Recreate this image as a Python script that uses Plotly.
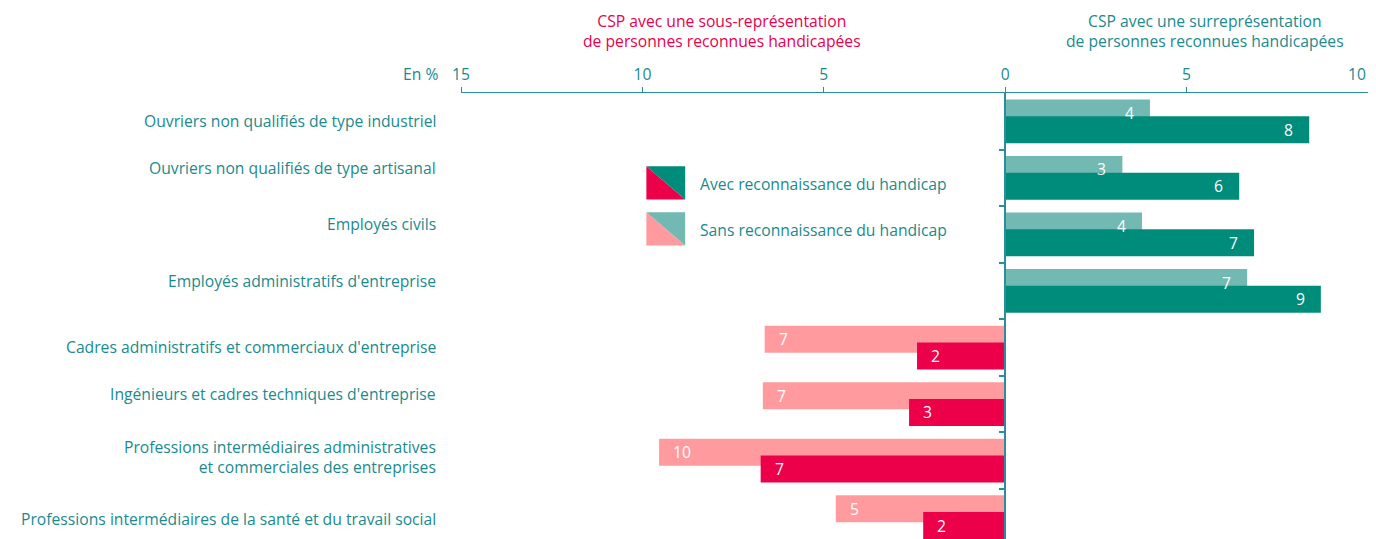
import plotly.graph_objects as go

categories = [
    "Ouvriers non qualifiés de type industriel",
    "Ouvriers non qualifiés de type artisanal",
    "Employés civils",
    "Employés administratifs d'entreprise",
    "Cadres administratifs et commerciaux d'entreprise",
    "Ingénieurs et cadres techniques d'entreprise",
    "Professions intermédiaires administratives<br>et commerciales des entreprises",
    "Professions intermédiaires de la santé et du travail social",
]
sans_reco = [3.99, 3.23, 3.77, 6.67, -6.63, -6.68, -9.54, -4.67]
avec_reco = [8.38, 6.45, 6.86, 8.70, -2.43, -2.65, -6.74, -2.26]
tick_vals = [-15, -10, -5, 0, 5, 10]
tick_text = ["15", "10", "5", "0", "5", "10"]

TEAL_DARK = "#008c7b"
TEAL_LIGHT = "#72b9b3"
RED_DARK = "#ec0049"
RED_LIGHT = "#ff9b9f"
TXT = "#1a8a8e"
PINK_TXT = "#e8004c"
AXIS = "#2a8f96"
FONT = "Open Sans"
FS = 15.7

# per-label vertical nudge (px) to follow the original typesetting
label_yshift = [0, 10, 10, 9.5, 1, 10, 4, -2]

n = len(categories)
pos = list(range(n))
off = 0.148
w = 0.478

fig = go.Figure()
fig.add_trace(go.Bar(
    x=sans_reco, y=[p - off for p in pos], orientation="h", width=w,
    marker=dict(color=[TEAL_LIGHT if v > 0 else RED_LIGHT for v in sans_reco], line=dict(width=0)),
    showlegend=False, hoverinfo="skip",
))
fig.add_trace(go.Bar(
    x=avec_reco, y=[p + off for p in pos], orientation="h", width=w,
    marker=dict(color=[TEAL_DARK if v > 0 else RED_DARK for v in avec_reco], line=dict(width=0)),
    showlegend=False, hoverinfo="skip",
))

annotations = []
# value labels
for series, dy in ((sans_reco, -off), (avec_reco, off)):
    for p, v in zip(pos, series):
        annotations.append(dict(
            x=v, y=p + dy, xref="x", yref="y", text=str(round(abs(v))),
            showarrow=False, xanchor="right" if v > 0 else "left",
            xshift=-14 if v > 0 else 12, yanchor="middle",
            font=dict(family=FONT, size=FS, color="white"),
        ))
# category labels
for p, c, ys in zip(pos, categories, label_yshift):
    annotations.append(dict(
        x=0, y=p, xref="paper", yref="y", text=c, showarrow=False,
        xanchor="right", yanchor="middle", align="right", xshift=-23, yshift=ys,
        font=dict(family=FONT, size=FS, color=TXT),
    ))
# headers
annotations.append(dict(
    x=-7.8, y=1, xref="x", yref="paper", yshift=62, yanchor="middle",
    text="CSP avec une sous-représentation<br>de personnes reconnues handicapées",
    showarrow=False, font=dict(family=FONT, size=FS, color=PINK_TXT),
))
annotations.append(dict(
    x=5.5, y=1, xref="x", yref="paper", yshift=62, yanchor="middle",
    text="CSP avec une surreprésentation<br>de personnes reconnues handicapées",
    showarrow=False, font=dict(family=FONT, size=FS, color=TXT),
))
annotations.append(dict(
    x=0, y=1, xref="paper", yref="paper", xanchor="right", xshift=-21,
    yanchor="middle", yshift=19, text="En %", showarrow=False,
    font=dict(family=FONT, size=FS, color=TXT),
))
# last tick label placed inside the page edge
annotations.append(dict(
    x=tick_vals[-1], y=1, xref="x", yref="paper", xanchor="right", xshift=0,
    yanchor="middle", yshift=19, text=tick_text[-1], showarrow=False,
    font=dict(family=FONT, size=FS, color=TXT),
))

# legend (custom diagonal swatches)
shapes = []
legend_items = [
    ("Avec reconnaissance du handicap", RED_DARK, TEAL_DARK, 0.795, 1.384),
    ("Sans reconnaissance du handicap", RED_LIGHT, TEAL_LIGHT, 1.609, 2.198),
]
x0, x1 = -9.89, -8.82
for label, c_low, c_up, y0, y1 in legend_items:
    shapes.append(dict(type="path", xref="x", yref="y",
                       path=f"M {x0} {y0} L {x0} {y1} L {x1} {y1} Z",
                       fillcolor=c_low, line=dict(width=0)))
    shapes.append(dict(type="path", xref="x", yref="y",
                       path=f"M {x0} {y0} L {x1} {y0} L {x1} {y1} Z",
                       fillcolor=c_up, line=dict(width=0)))
    annotations.append(dict(
        x=-8.48, y=(y0 + y1) / 2, xref="x", yref="y", text=label,
        showarrow=False, xanchor="left", yanchor="middle", yshift=-1,
        font=dict(family=FONT, size=FS, color=TXT),
    ))

fig.update_layout(
    width=1368, height=531,
    margin=dict(l=453, r=8, t=85, b=0),
    paper_bgcolor="white", plot_bgcolor="white",
    barmode="overlay",
    annotations=annotations, shapes=shapes,
    xaxis=dict(
        side="top", range=[-15, 10], tickvals=tick_vals,
        ticktext=tick_text[:-1] + [""],
        showgrid=False, zeroline=False, showline=True, linecolor=AXIS, linewidth=1,
        ticks="outside", ticklen=5, tickcolor=AXIS, tickwidth=1,
        tickfont=dict(family=FONT, size=FS, color=TXT), ticklabelstandoff=1,
        fixedrange=True,
    ),
    yaxis=dict(
        range=[7.385, -0.5], anchor="free", position=0.6,
        tickvals=[p + 0.5 for p in pos[:-1]], showticklabels=False,
        showgrid=False, zeroline=False, showline=True, linecolor=AXIS, linewidth=1.5,
        ticks="outside", ticklen=5, tickcolor=AXIS, tickwidth=1.5,
        fixedrange=True,
    ),
)

fig.write_html("out.html")
